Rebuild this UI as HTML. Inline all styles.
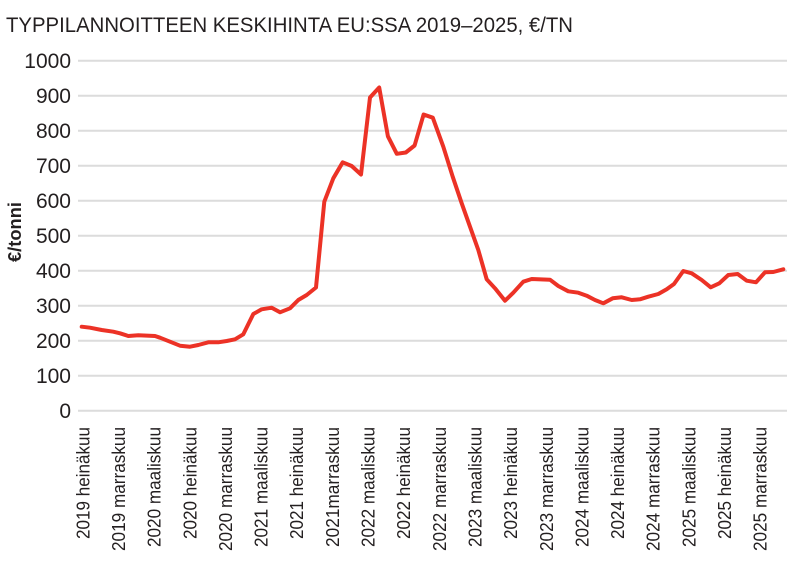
<!DOCTYPE html>
<html><head><meta charset="utf-8">
<style>
html,body{margin:0;padding:0;background:#fff;}
svg{display:block;}
text{font-family:"Liberation Sans",Arial,sans-serif;fill:#231f20;}
</style></head>
<body>
<svg width="800" height="565" viewBox="0 0 800 565" xmlns="http://www.w3.org/2000/svg">
<text x="6" y="32" font-size="21" textLength="567" lengthAdjust="spacingAndGlyphs">TYPPILANNOITTEEN KESKIHINTA EU:SSA 2019–2025, €/TN</text>
<g stroke="#dcdcdc" stroke-width="2">
<line x1="78" y1="60.7" x2="787" y2="60.7"/>
<line x1="78" y1="95.7" x2="787" y2="95.7"/>
<line x1="78" y1="130.7" x2="787" y2="130.7"/>
<line x1="78" y1="165.7" x2="787" y2="165.7"/>
<line x1="78" y1="200.7" x2="787" y2="200.7"/>
<line x1="78" y1="235.7" x2="787" y2="235.7"/>
<line x1="78" y1="270.7" x2="787" y2="270.7"/>
<line x1="78" y1="305.7" x2="787" y2="305.7"/>
<line x1="78" y1="340.7" x2="787" y2="340.7"/>
<line x1="78" y1="375.7" x2="787" y2="375.7"/>
<line x1="78" y1="410.7" x2="787" y2="410.7"/>
</g>
<g font-size="21" text-anchor="end">
<text x="71" y="68.2">1000</text>
<text x="71" y="103.2">900</text>
<text x="71" y="138.2">800</text>
<text x="71" y="173.2">700</text>
<text x="71" y="208.2">600</text>
<text x="71" y="243.2">500</text>
<text x="71" y="278.2">400</text>
<text x="71" y="313.2">300</text>
<text x="71" y="348.2">200</text>
<text x="71" y="383.2">100</text>
<text x="71" y="418.2">0</text>
</g>
<text transform="translate(21,232) rotate(-90)" font-size="18" font-weight="bold" text-anchor="middle" textLength="60" lengthAdjust="spacingAndGlyphs">€/tonni</text>
<g font-size="18" text-anchor="end">
<text transform="translate(89.3,427) rotate(-90)" textLength="112" lengthAdjust="spacingAndGlyphs">2019 heinäkuu</text>
<text transform="translate(125,427) rotate(-90)" textLength="124" lengthAdjust="spacingAndGlyphs">2019 marraskuu</text>
<text transform="translate(160.6,427) rotate(-90)" textLength="120" lengthAdjust="spacingAndGlyphs">2020 maaliskuu</text>
<text transform="translate(196.3,427) rotate(-90)" textLength="112" lengthAdjust="spacingAndGlyphs">2020 heinäkuu</text>
<text transform="translate(231.9,427) rotate(-90)" textLength="124" lengthAdjust="spacingAndGlyphs">2020 marraskuu</text>
<text transform="translate(267.6,427) rotate(-90)" textLength="120" lengthAdjust="spacingAndGlyphs">2021 maaliskuu</text>
<text transform="translate(303.2,427) rotate(-90)" textLength="112" lengthAdjust="spacingAndGlyphs">2021 heinäkuu</text>
<text transform="translate(338.9,427) rotate(-90)" textLength="120" lengthAdjust="spacingAndGlyphs">2021marraskuu</text>
<text transform="translate(374.5,427) rotate(-90)" textLength="120" lengthAdjust="spacingAndGlyphs">2022 maaliskuu</text>
<text transform="translate(410.2,427) rotate(-90)" textLength="112" lengthAdjust="spacingAndGlyphs">2022 heinäkuu</text>
<text transform="translate(445.8,427) rotate(-90)" textLength="124" lengthAdjust="spacingAndGlyphs">2022 marraskuu</text>
<text transform="translate(481.5,427) rotate(-90)" textLength="120" lengthAdjust="spacingAndGlyphs">2023 maaliskuu</text>
<text transform="translate(517.1,427) rotate(-90)" textLength="112" lengthAdjust="spacingAndGlyphs">2023 heinäkuu</text>
<text transform="translate(552.8,427) rotate(-90)" textLength="124" lengthAdjust="spacingAndGlyphs">2023 marraskuu</text>
<text transform="translate(588.4,427) rotate(-90)" textLength="120" lengthAdjust="spacingAndGlyphs">2024 maaliskuu</text>
<text transform="translate(624.1,427) rotate(-90)" textLength="112" lengthAdjust="spacingAndGlyphs">2024 heinäkuu</text>
<text transform="translate(659.7,427) rotate(-90)" textLength="124" lengthAdjust="spacingAndGlyphs">2024 marraskuu</text>
<text transform="translate(695.4,427) rotate(-90)" textLength="120" lengthAdjust="spacingAndGlyphs">2025 maaliskuu</text>
<text transform="translate(731,427) rotate(-90)" textLength="112" lengthAdjust="spacingAndGlyphs">2025 heinäkuu</text>
<text transform="translate(766.7,427) rotate(-90)" textLength="124" lengthAdjust="spacingAndGlyphs">2025 marraskuu</text>
</g>
<polyline fill="none" stroke="#ec3226" stroke-width="4" stroke-linejoin="round" stroke-linecap="round"
points="81.7,326.7 90,327.7 101.7,330 113.3,331.7 120,333.3 128.3,336 138.3,335.3 155,336 160,337.7 170,341.7 180,345.7 190,346.7 198.3,345 208.3,342.3 218.3,342.3 226.7,341 235,339.3 243.3,334.3 253.3,314 261.7,309.3 271.7,307.7 280,312.3 290,308.3 298.3,300 306.7,295 316,287.5 324.3,201.7 333.3,178.3 342.7,162.3 351.7,166 361,174.5 370,97.5 379.2,87.5 387.9,136.3 396.8,153.8 405.8,152.5 414.6,145.5 423.6,114.5 432.8,117.7 443.3,146.7 452.7,176.7 461.7,203.3 470,226.7 478.3,250 486.7,279.3 495,288.3 505,300.7 513.3,292.7 523.3,281.7 531.7,279 550,279.7 558.3,286 568.3,291.3 578.3,292.7 586.7,295.7 595,300 603.3,303.3 612.7,298.3 621.7,297.3 631.7,300 640,299.3 648.3,296.7 658.3,294 666.7,289.3 674,284 683.3,271 691.7,273.3 701.7,280 710.7,287.3 719.3,283.3 728.3,275 737.7,274 746.7,280.7 756,282.3 765,272.3 773.3,272 783.3,269.3"/>
</svg>
</body></html>
